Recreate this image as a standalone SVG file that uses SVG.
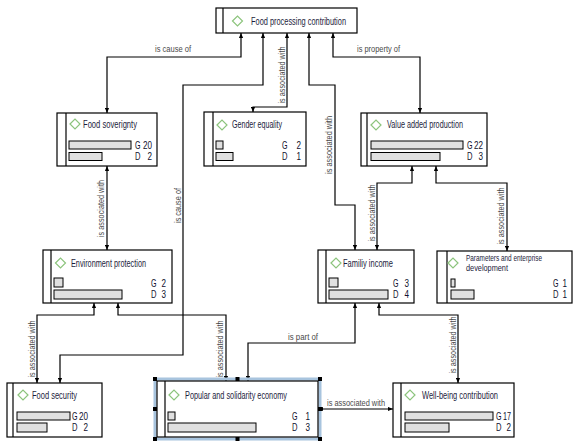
<svg xmlns="http://www.w3.org/2000/svg" width="577" height="442" viewBox="0 0 577 442">
<style>
.box{fill:#fff;stroke:#000;stroke-width:1.2}
.in{stroke:#000;stroke-width:1.2}
.dia{fill:none;stroke:#8cc47c;stroke-width:1.2}
.t{font-family:"Liberation Sans",Arial,sans-serif;font-size:10px;fill:#1c1c3c}
.bar{fill:#e0e0e0;stroke:#000;stroke-width:1}
.gd{font-family:"Liberation Sans",Arial,sans-serif;font-size:10px;fill:#10102e}
.c{fill:none;stroke:#000;stroke-width:1.2;marker-start:url(#a);marker-end:url(#a)}
.l{font-family:"Liberation Sans",Arial,sans-serif;font-size:9.5px;fill:#4a4a4a}
.h{fill:#000}
</style>
<defs>
<marker id="a" viewBox="0 0 6 6" refX="6" refY="3" markerWidth="5" markerHeight="5" markerUnits="userSpaceOnUse" orient="auto-start-reverse"><path d="M0,0.5 L6,3 L0,5.5z" fill="#000"/></marker>
</defs>
<rect width="577" height="442" fill="#fff"/>
<g id="connectors">
<polyline class="c" points="241,33 241,57 107,57 107,113"/>
<text class="l" x="155" y="52" textLength="36" lengthAdjust="spacingAndGlyphs">is cause of</text>
<polyline class="c" points="263,33 263,85 183,85 183,355 60,355 60,383"/>
<text class="l" transform="rotate(-90 181 205.5)" x="181" y="205.5" text-anchor="middle" textLength="35" lengthAdjust="spacingAndGlyphs">is cause of</text>
<polyline class="c" points="287,33 287,107 253,107 253,112"/>
<text class="l" transform="rotate(-90 285 75)" x="285" y="75" text-anchor="middle" textLength="57" lengthAdjust="spacingAndGlyphs">is associated with</text>
<polyline class="c" points="309,33 309,85 335,85 335,205 355,205 355,250"/>
<text class="l" transform="rotate(-90 332 145)" x="332" y="145" text-anchor="middle" textLength="58" lengthAdjust="spacingAndGlyphs">is associated with</text>
<polyline class="c" points="333,33 333,57 420,57 420,113"/>
<text class="l" x="357" y="52" textLength="43" lengthAdjust="spacingAndGlyphs">is property of</text>
<polyline class="c" points="107,166 107,250"/>
<text class="l" transform="rotate(-90 104 208.5)" x="104" y="208.5" text-anchor="middle" textLength="57" lengthAdjust="spacingAndGlyphs">is associated with</text>
<polyline class="c" points="412,166 412,183 377,183 377,250"/>
<text class="l" transform="rotate(-90 375 213)" x="375" y="213" text-anchor="middle" textLength="57" lengthAdjust="spacingAndGlyphs">is associated with</text>
<polyline class="c" points="436,166 436,183 507,183 507,251"/>
<text class="l" transform="rotate(-90 504 216)" x="504" y="216" text-anchor="middle" textLength="57" lengthAdjust="spacingAndGlyphs">is associated with</text>
<polyline class="c" points="94,303 94,315 37,315 37,383"/>
<text class="l" transform="rotate(-90 35 349)" x="35" y="349" text-anchor="middle" textLength="57" lengthAdjust="spacingAndGlyphs">is associated with</text>
<polyline class="c" points="118,303 118,315 226,315 226,381"/>
<text class="l" transform="rotate(-90 223 349)" x="223" y="349" text-anchor="middle" textLength="57" lengthAdjust="spacingAndGlyphs">is associated with</text>
<polyline class="c" points="355,303 355,343 248,343 248,381"/>
<text class="l" x="288" y="340" textLength="30" lengthAdjust="spacingAndGlyphs">is part of</text>
<polyline class="c" points="379,303 379,315 458,315 458,383"/>
<text class="l" transform="rotate(-90 456 345)" x="456" y="345" text-anchor="middle" textLength="57" lengthAdjust="spacingAndGlyphs">is associated with</text>
<polyline class="c" points="318,409 393,409"/>
<text class="l" x="327" y="406" textLength="58" lengthAdjust="spacingAndGlyphs">is associated with</text>
</g>
<g id="n-fpc">
<rect class="box" x="216" y="8" width="141" height="25"/>
<line class="in" x1="223" y1="8" x2="223" y2="33"/>
<polygon class="dia" points="232.5,21 237.5,16 242.5,21 237.5,26"/>
<text class="t" x="251" y="24.5" textLength="95" lengthAdjust="spacingAndGlyphs">Food processing contribution</text>
</g>
<g id="n-fs">
<rect class="box" x="57" y="113" width="100" height="53"/>
<line class="in" x1="66" y1="113" x2="66" y2="166"/>
<polygon class="dia" points="70,124 75,119 80,124 75,129"/>
<text class="t" x="83" y="127.5" textLength="54" lengthAdjust="spacingAndGlyphs">Food soverignty</text>
<rect class="bar" x="69" y="141" width="62" height="8"/>
<rect class="bar" x="69" y="152.5" width="33" height="8"/>
<text class="gd" x="135" y="148.5" textLength="5.5" lengthAdjust="spacingAndGlyphs">G</text><text class="gd" x="152" y="148.5" text-anchor="end" textLength="9" lengthAdjust="spacingAndGlyphs">20</text>
<text class="gd" x="135" y="160" textLength="5.5" lengthAdjust="spacingAndGlyphs">D</text><text class="gd" x="152" y="160" text-anchor="end" textLength="4.5" lengthAdjust="spacingAndGlyphs">2</text>
</g>
<g id="n-ge">
<rect class="box" x="204" y="112" width="102" height="54"/>
<line class="in" x1="213" y1="112" x2="213" y2="166"/>
<polygon class="dia" points="217,125 222,120 227,125 222,130"/>
<text class="t" x="232" y="128" textLength="50" lengthAdjust="spacingAndGlyphs">Gender equality</text>
<rect class="bar" x="216" y="141" width="7" height="8"/>
<rect class="bar" x="216" y="152.5" width="17" height="8"/>
<text class="gd" x="282" y="148.5" textLength="5.5" lengthAdjust="spacingAndGlyphs">G</text><text class="gd" x="301" y="148.5" text-anchor="end" textLength="4.5" lengthAdjust="spacingAndGlyphs">2</text>
<text class="gd" x="282" y="160" textLength="5.5" lengthAdjust="spacingAndGlyphs">D</text><text class="gd" x="301" y="160" text-anchor="end" textLength="4.5" lengthAdjust="spacingAndGlyphs">1</text>
</g>
<g id="n-vap">
<rect class="box" x="361" y="113" width="126" height="53"/>
<line class="in" x1="367" y1="113" x2="367" y2="166"/>
<polygon class="dia" points="371,125 376,120 381,125 376,130"/>
<text class="t" x="387" y="128" textLength="76" lengthAdjust="spacingAndGlyphs">Value added production</text>
<rect class="bar" x="371" y="141" width="92" height="8"/>
<rect class="bar" x="371" y="152.5" width="69" height="8"/>
<text class="gd" x="467" y="148.5" textLength="5.5" lengthAdjust="spacingAndGlyphs">G</text><text class="gd" x="483" y="148.5" text-anchor="end" textLength="9" lengthAdjust="spacingAndGlyphs">22</text>
<text class="gd" x="467" y="160" textLength="5.5" lengthAdjust="spacingAndGlyphs">D</text><text class="gd" x="483" y="160" text-anchor="end" textLength="4.5" lengthAdjust="spacingAndGlyphs">3</text>
</g>
<g id="n-ep">
<rect class="box" x="43" y="250" width="129" height="53"/>
<line class="in" x1="51" y1="250" x2="51" y2="303"/>
<polygon class="dia" points="55.5,263 60.5,258 65.5,263 60.5,268"/>
<text class="t" x="71" y="266.5" textLength="75" lengthAdjust="spacingAndGlyphs">Environment protection</text>
<rect class="bar" x="54" y="278" width="9" height="9"/>
<rect class="bar" x="54" y="290" width="68" height="9"/>
<text class="gd" x="151" y="286.5" textLength="5.5" lengthAdjust="spacingAndGlyphs">G</text><text class="gd" x="166" y="286.5" text-anchor="end" textLength="4.5" lengthAdjust="spacingAndGlyphs">2</text>
<text class="gd" x="151" y="298" textLength="5.5" lengthAdjust="spacingAndGlyphs">D</text><text class="gd" x="166" y="298" text-anchor="end" textLength="4.5" lengthAdjust="spacingAndGlyphs">3</text>
</g>
<g id="n-fi">
<rect class="box" x="318" y="250" width="96" height="53"/>
<line class="in" x1="326" y1="250" x2="326" y2="303"/>
<polygon class="dia" points="331,263 336,258 341,263 336,268"/>
<text class="t" x="343" y="266.5" textLength="50" lengthAdjust="spacingAndGlyphs">Familiy income</text>
<rect class="bar" x="329" y="278" width="9" height="9"/>
<rect class="bar" x="329" y="290" width="59" height="9"/>
<text class="gd" x="393" y="286.5" textLength="5.5" lengthAdjust="spacingAndGlyphs">G</text><text class="gd" x="409" y="286.5" text-anchor="end" textLength="4.5" lengthAdjust="spacingAndGlyphs">3</text>
<text class="gd" x="393" y="298" textLength="5.5" lengthAdjust="spacingAndGlyphs">D</text><text class="gd" x="409" y="298" text-anchor="end" textLength="4.5" lengthAdjust="spacingAndGlyphs">4</text>
</g>
<g id="n-ped">
<rect class="box" x="437" y="251" width="135" height="52"/>
<line class="in" x1="447" y1="251" x2="447" y2="303"/>
<polygon class="dia" points="448,263 453,258 458,263 453,268"/>
<text class="t" x="466" y="261" font-size="9" style="font-size:9px" textLength="76" lengthAdjust="spacingAndGlyphs">Parameters and enterprise</text>
<text class="t" x="466" y="271" style="font-size:9px" textLength="42" lengthAdjust="spacingAndGlyphs">development</text>
<rect class="bar" x="451" y="279" width="4" height="8"/>
<rect class="bar" x="451" y="290" width="23" height="9"/>
<text class="gd" x="553" y="286.5" textLength="5.5" lengthAdjust="spacingAndGlyphs">G</text><text class="gd" x="567" y="286.5" text-anchor="end" textLength="4.5" lengthAdjust="spacingAndGlyphs">1</text>
<text class="gd" x="553" y="298" textLength="5.5" lengthAdjust="spacingAndGlyphs">D</text><text class="gd" x="567" y="298" text-anchor="end" textLength="4.5" lengthAdjust="spacingAndGlyphs">1</text>
</g>
<g id="n-fsec">
<rect class="box" x="7" y="383" width="95" height="54"/>
<line class="in" x1="13" y1="383" x2="13" y2="437"/>
<polygon class="dia" points="18,395 23,390 28,395 23,400"/>
<text class="t" x="32" y="398.5" textLength="45" lengthAdjust="spacingAndGlyphs">Food security</text>
<rect class="bar" x="17" y="412" width="53" height="8"/>
<rect class="bar" x="17" y="423" width="30" height="9"/>
<text class="gd" x="72" y="419.5" textLength="5.5" lengthAdjust="spacingAndGlyphs">G</text><text class="gd" x="88" y="419.5" text-anchor="end" textLength="9" lengthAdjust="spacingAndGlyphs">20</text>
<text class="gd" x="72" y="431" textLength="5.5" lengthAdjust="spacingAndGlyphs">D</text><text class="gd" x="88" y="431" text-anchor="end" textLength="4.5" lengthAdjust="spacingAndGlyphs">2</text>
</g>
<g id="n-pse">
<rect x="155" y="379" width="165" height="60" fill="none" stroke="#a8c4de" stroke-width="3"/>
<rect class="box" x="157" y="381" width="161" height="56"/>
<line class="in" x1="165" y1="381" x2="165" y2="437"/>
<polygon class="dia" points="169,395 174,390 179,395 174,400"/>
<text class="t" x="185" y="398.5" textLength="102" lengthAdjust="spacingAndGlyphs">Popular and solidarity economy</text>
<rect class="bar" x="168" y="412" width="7" height="8"/>
<rect class="bar" x="168" y="423" width="88" height="9"/>
<text class="gd" x="292" y="419.5" textLength="5.5" lengthAdjust="spacingAndGlyphs">G</text><text class="gd" x="310" y="419.5" text-anchor="end" textLength="4.5" lengthAdjust="spacingAndGlyphs">1</text>
<text class="gd" x="292" y="431" textLength="5.5" lengthAdjust="spacingAndGlyphs">D</text><text class="gd" x="310" y="431" text-anchor="end" textLength="4.5" lengthAdjust="spacingAndGlyphs">3</text>
<rect class="h" x="153" y="377" width="4" height="4"/><rect class="h" x="235.5" y="377" width="4" height="4"/><rect class="h" x="318" y="377" width="4" height="4"/>
<rect class="h" x="153" y="407" width="4" height="4"/><rect class="h" x="318" y="407" width="4" height="4"/>
<rect class="h" x="153" y="437" width="4" height="4"/><rect class="h" x="235.5" y="437" width="4" height="4"/><rect class="h" x="318" y="437" width="4" height="4"/>
</g>
<g id="n-wbc">
<rect class="box" x="393" y="383" width="121" height="54"/>
<line class="in" x1="401" y1="383" x2="401" y2="437"/>
<polygon class="dia" points="405,395 410,390 415,395 410,400"/>
<text class="t" x="422" y="398.5" textLength="76" lengthAdjust="spacingAndGlyphs">Well-being contribution</text>
<rect class="bar" x="405" y="412" width="88" height="8"/>
<rect class="bar" x="405" y="423" width="44" height="9"/>
<text class="gd" x="496" y="419.5" textLength="5.5" lengthAdjust="spacingAndGlyphs">G</text><text class="gd" x="511" y="419.5" text-anchor="end" textLength="8" lengthAdjust="spacingAndGlyphs">17</text>
<text class="gd" x="496" y="431" textLength="5.5" lengthAdjust="spacingAndGlyphs">D</text><text class="gd" x="511" y="431" text-anchor="end" textLength="4.5" lengthAdjust="spacingAndGlyphs">2</text>
</g>
</svg>
